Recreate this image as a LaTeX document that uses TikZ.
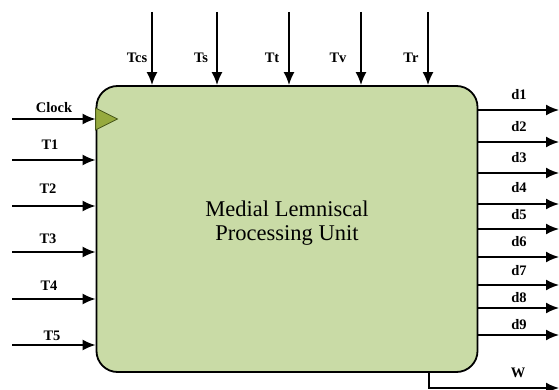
\documentclass[tikz,border=0pt]{standalone}
\usepackage{fontspec}
\setmainfont{Liberation Serif}
\usetikzlibrary{arrows.meta,calc}
\definecolor{boxfill}{RGB}{201,219,166}
\definecolor{clockfill}{RGB}{150,170,62}
\definecolor{clockline}{RGB}{70,85,25}
\tikzset{
  sig/.style={line width=1.8pt, -{Latex[length=13pt,width=11pt]}},
  lbl/.style={font=\fontsize{14.5}{16}\selectfont\bfseries, inner sep=0pt},
  unit/.style={draw, line width=1.8pt, fill=boxfill, rounded corners=21pt,
    minimum width=381pt, minimum height=286pt, inner sep=0pt},
}
\begin{document}
\begin{tikzpicture}[x=1pt,y=-1pt]
\useasboundingbox (0,0) rectangle (559,390);
\node[unit] (box) at (287,229) {};
\node[font=\fontsize{22.5}{23.5}\selectfont, align=center, inner sep=0pt] (title) at (287,223) {Medial Lemniscal\\Processing Unit};
% clock triangle
\draw[fill=clockfill, draw=clockline, line width=0.8pt] (box.west |- 0,108) -- ++(22,11) -- ++(-22,11) -- cycle;
% top inputs
\foreach \n/\x/\lx in {Tcs/152/137, Ts/217/201, Tt/289/272, Tv/361/338, Tr/428/411}{
  \coordinate (top\n) at (\x,12);
  \draw[sig] (top\n) -- (top\n |- box.north);
  \node[lbl] (l\n) at (\lx,58) {\n};
}
% left inputs
\foreach \n/\y/\ly/\lx in {Clock/119/108/54, T1/160/145/50, T2/206/189/48, T3/252/239/48, T4/299/286/49, T5/345/336/52}{
  \coordinate (in\n) at (12,\y);
  \draw[sig] (in\n) -- (in\n -| box.west);
  \node[lbl] (l\n) at (\lx,\ly) {\n};
}
% right outputs
\foreach \n/\y/\ly in {d1/110/95, d2/142/127, d3/173/158, d4/204/188, d5/229/215, d6/257/242, d7/285/271, d8/308/298, d9/335/325}{
  \coordinate (out\n) at (559,\y);
  \draw[sig] (out\n -| box.east) -- (out\n);
  \node[lbl] (l\n) at (519,\ly) {\n};
}
% W output
\coordinate (wbend) at (429,388);
\coordinate (wout) at (559,388);
\draw[sig] (wbend |- box.south) -- (wbend) -- (wout);
\node[lbl] (lW) at (518,373) {W};
\end{tikzpicture}
\end{document}
